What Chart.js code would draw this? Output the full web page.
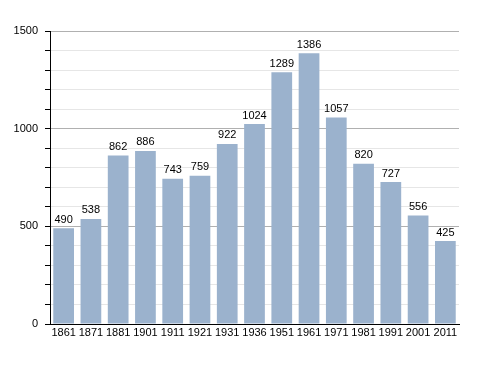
<!DOCTYPE html>
<html lang="en">
<head>
<meta charset="UTF-8">
<title>Population</title>
<script src="https://cdn.jsdelivr.net/npm/chart.js"></script>
<style>
body {margin:0; background:#fff}
#wrap {width:488px; height:373px}
</style>
</head>
<body>
<div id="wrap"><canvas id="popChart" width="488" height="373"></canvas></div>
<script>
// census years and population
var years = ['1861','1871','1881','1901','1911','1921','1931','1936','1951','1961','1971','1981','1991','2001','2011'];
var population = [490,538,862,886,743,759,922,1024,1289,1386,1057,820,727,556,425];
var yTicks = [0,500,1000,1500];

// write the value above each bar
var valueLabels = {
  id: 'valueLabels',
  afterDatasetsDraw: function(chart) {
    var ctx = chart.ctx;
    var meta = chart.getDatasetMeta(0);
    ctx.save();
    ctx.font = '11px "Liberation Sans", Arial, sans-serif';
    ctx.fillStyle = '#000';
    ctx.textAlign = 'center';
    ctx.textBaseline = 'bottom';
    meta.data.forEach(function(bar, i) {
      ctx.fillText(population[i], bar.x, bar.y - 3);
    });
    ctx.restore();
  }
};

Chart.defaults.font.family = '"Liberation Sans", Arial, sans-serif';
Chart.defaults.font.size = 11;
Chart.defaults.color = '#000';

new Chart(document.getElementById('popChart'), {
  type: 'bar',
  data: {
    labels: years,
    datasets: [{
      data: population,
      backgroundColor: '#9bb2cd',
      barPercentage: 0.76,
      categoryPercentage: 1
    }]
  },
  options: {
    responsive: false,
    animation: false,
    layout: {padding: {top: 31, right: 29, left: 0, bottom: 0}},
    plugins: {legend: {display: false}, tooltip: {enabled: false}},
    scales: {
      x: {
        grid: {display: false, drawTicks: false},
        border: {display: true, color: '#000', width: 1},
        ticks: {padding: 2, maxRotation: 0, autoSkip: false},
        afterFit: function(s) { s.height = 49; }
      },
      y: {
        min: yTicks[0],
        max: yTicks[yTicks.length - 1],
        ticks: {
          stepSize: 100,
          padding: 7,
          callback: function(v) { return yTicks.indexOf(v) >= 0 ? v : ''; }
        },
        grid: {
          color: function(c) { return c.tick && c.tick.value % 500 === 0 ? '#b0b0b0' : '#e6e6e6'; },
          tickColor: '#000',
          tickLength: 5,
          lineWidth: 1
        },
        border: {display: true, color: '#000', width: 1},
        afterFit: function(s) { s.width = 50; }
      }
    }
  },
  plugins: [valueLabels]
});
</script>
</body>
</html>
